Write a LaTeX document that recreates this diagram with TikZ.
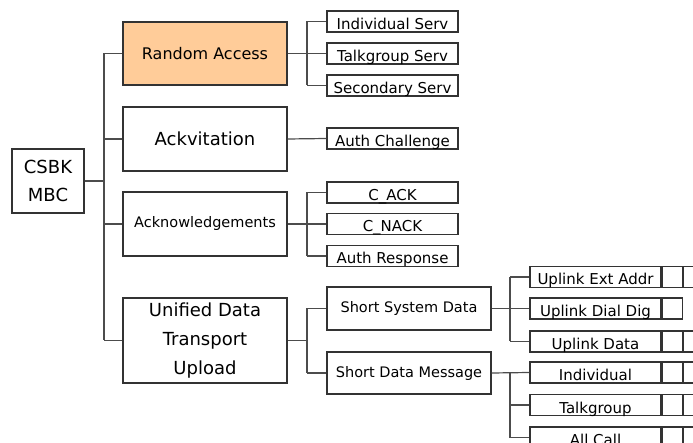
\documentclass[tikz,border=0pt]{standalone}
\usepackage{fontspec}
\setmainfont{DejaVu Sans}
\usepackage{tikz}
\usepackage{xcolor}
\definecolor{raorange}{RGB}{255,204,153}

\begin{document}
\begin{tikzpicture}[x=1pt, y=-1pt,
  bigbox/.style={draw=black!80, line width=1.1pt, minimum width=164pt, align=center, inner sep=2pt},
  smallbox/.style={draw=black!80, line width=1.1pt, minimum width=131pt, inner xsep=2pt,
    inner ysep=0.5pt, text height=18pt, text depth=2pt, font=\fontsize{15}{18}\selectfont},
  cell/.style={draw=black!80, line width=1.1pt, minimum width=20pt, minimum height=21pt, inner sep=0pt},
  link/.style={draw=black!70, line width=1.2pt}]
  \useasboundingbox (0,0) rectangle (693,443);
  \clip (0,0) rectangle (693,443);
  % === ROT og hovedgrener ===
  \node[bigbox, minimum width=72pt, minimum height=64pt, font=\fontsize{18}{28}\selectfont]
    (csbk) at (48,181) {CSBK\\MBC};
  \node[bigbox, fill=raorange, minimum height=63pt, font=\fontsize{16}{19}\selectfont]
    (ra) at (205,53.5) {Random Access};
  \node[bigbox, minimum height=64pt, font=\fontsize{18}{21}\selectfont]
    (ackv) at (205,139) {Ackvitation};
  \node[bigbox, minimum height=64pt, font=\fontsize{14.5}{17}\selectfont]
    (ackn) at (205,224) {Acknowledgements};
  \node[bigbox, minimum height=85pt, font=\fontsize{18}{29}\selectfont]
    (udt) at (205,340.5) {Unified Data\\Transport\\Upload};
  \coordinate (trunk) at (104,0);
  \draw[link] (csbk.east) -- (csbk.east -| trunk);
  \draw[link] (trunk |- ra.west) -- (trunk |- udt.west);
  \foreach \n in {ra,ackv,ackn,udt}
    \draw[link] (trunk |- \n.west) -- (\n.west);
  % === Random Access ===
  \node[smallbox] (indserv) at (392.5,21.5) {Individual Serv};
  \node[smallbox] (tgserv) at (392.5,53.5) {Talkgroup Serv};
  \node[smallbox] (secserv) at (392.5,85.5) {Secondary Serv};
  \coordinate (midbr) at (307,0);
  \draw[link] (ra.east) -- (ra.east -| midbr);
  \draw[link] (midbr |- indserv.west) -- (midbr |- secserv.west);
  \foreach \n in {indserv,tgserv,secserv}
    \draw[link] (midbr |- \n.west) -- (\n.west);
  % === Ackvitation ===
  \node[smallbox] (authch) at (392.5,138.5) {Auth Challenge};
  \draw[link] (ackv.east) -- (authch.west);
  % === Acknowledgements ===
  \node[smallbox] (cack) at (392.5,192.5) {C\_ACK};
  \node[smallbox] (cnack) at (392.5,224) {C\_NACK};
  \node[smallbox] (authresp) at (392.5,256) {Auth Response};
  \draw[link] (ackn.east) -- (ackn.east -| midbr);
  \draw[link] (midbr |- cack.west) -- (midbr |- authresp.west);
  \foreach \n in {cack,cnack,authresp}
    \draw[link] (midbr |- \n.west) -- (\n.west);
  % === Unified Data Transport Upload ===
  \node[bigbox, minimum height=43pt, font=\fontsize{14.5}{17}\selectfont]
    (ssd) at (409,308.5) {Short System Data};
  \node[bigbox, minimum height=42pt, font=\fontsize{14.5}{17}\selectfont]
    (sdm) at (409,373) {Short Data Message};
  \draw[link] (udt.east) -- (udt.east -| midbr);
  \draw[link] (midbr |- ssd.west) -- (midbr |- sdm.west);
  \foreach \n in {ssd,sdm}
    \draw[link] (midbr |- \n.west) -- (\n.west);
  % === Short System Data og Short Data Message ===
  \node[smallbox] (extaddr) at (595.5,277) {Uplink Ext Addr};
  \node[smallbox] (dialdig) at (595.5,308.5) {Uplink Dial Dig};
  \node[smallbox] (updata) at (595.5,341.5) {Uplink Data};
  \node[smallbox] (indiv) at (595.5,372.5) {Individual};
  \node[smallbox] (tgroup) at (595.5,405) {Talkgroup};
  \node[smallbox] (allcall) at (595.5,437.5) {All Call};
  \coordinate (lowbr) at (510,0);
  \draw[link] (ssd.east) -- (ssd.east -| lowbr);
  \draw[link] (lowbr |- extaddr.west) -- (lowbr |- updata.west);
  \foreach \n in {extaddr,dialdig,updata}
    \draw[link] (lowbr |- \n.west) -- (\n.west);
  \draw[link] (sdm.east) -- (indiv.west);
  \draw[link] (lowbr |- indiv.west) -- (lowbr |- allcall.west);
  \foreach \n in {tgroup,allcall}
    \draw[link] (lowbr |- \n.west) -- (\n.west);
  % tomme felt til hoyre
  \foreach \n in {extaddr,updata,indiv,tgroup,allcall} {
    \node[cell, anchor=west] (\n-a) at (\n.east) {};
    \node[cell, anchor=west] (\n-b) at (\n-a.east) {};
  }
  \node[cell, anchor=west] (dialdig-a) at (dialdig.east) {};
\end{tikzpicture}
\end{document}
